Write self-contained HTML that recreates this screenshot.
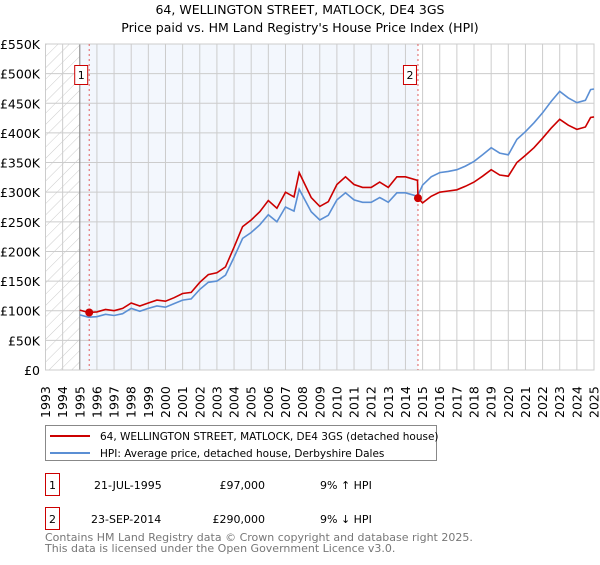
<!DOCTYPE html>
<html><head><meta charset="utf-8"><style>
body{margin:0;background:#fff;font-family:"Liberation Sans","DejaVu Sans",sans-serif;}
svg text{font-family:"DejaVu Sans","Liberation Sans",sans-serif;}
</style></head><body>
<svg id="chart" width="600" height="560" xmlns="http://www.w3.org/2000/svg">
<defs><pattern id="hatch" width="8" height="8" patternUnits="userSpaceOnUse" patternTransform="rotate(45)"><line x1="0" y1="0" x2="0" y2="8" stroke="#ccc" stroke-width="1"/></pattern></defs>
<text x="300" y="14" text-anchor="middle" font-size="12.5">64, WELLINGTON STREET, MATLOCK, DE4 3GS</text>
<text x="300" y="32" text-anchor="middle" font-size="12.5">Price paid vs. HM Land Registry's House Price Index (HPI)</text>
<g id="plot"></g>
<rect x="45.5" y="425.5" width="391" height="35" fill="#fff" stroke="#888"/>
<line x1="50" y1="436" x2="90" y2="436" stroke="#cc0000" stroke-width="2"/>
<text x="100" y="440" font-size="10.5">64, WELLINGTON STREET, MATLOCK, DE4 3GS (detached house)</text>
<line x1="50" y1="453" x2="90" y2="453" stroke="#5b8fd4" stroke-width="2"/>
<text x="100" y="457" font-size="10.5">HPI: Average price, detached house, Derbyshire Dales</text>
<rect x="45.5" y="473.5" width="14" height="22" fill="#fff" stroke="#cc0000"/>
<text x="52.5" y="489" text-anchor="middle" font-size="11">1</text>
<text x="94" y="489" font-size="11">21-JUL-1995</text>
<text x="265" y="489" text-anchor="end" font-size="11">£97,000</text>
<text x="320" y="489" font-size="11">9% ↑ HPI</text>
<rect x="45.5" y="507.5" width="14" height="22" fill="#fff" stroke="#cc0000"/>
<text x="52.5" y="523" text-anchor="middle" font-size="11">2</text>
<text x="91" y="523" font-size="11">23-SEP-2014</text>
<text x="265" y="523" text-anchor="end" font-size="11">£290,000</text>
<text x="320" y="523" font-size="11">9% ↓ HPI</text>
<text x="45" y="541" font-size="11" fill="#777">Contains HM Land Registry data © Crown copyright and database right 2025.</text>
<text x="45" y="552" font-size="11" fill="#777">This data is licensed under the Open Government Licence v3.0.</text>
</svg>
<script>
const hpiX=[1995,1995.5,1996,1996.5,1997,1997.5,1998,1998.5,1999,1999.5,2000,2000.5,2001,2001.5,2002,2002.5,2003,2003.5,2004,2004.5,2005,2005.5,2006,2006.5,2007,2007.5,2007.8,2008.5,2009,2009.5,2010,2010.5,2011,2011.5,2012,2012.5,2013,2013.5,2014,2014.7,2015,2015.5,2016,2016.5,2017,2017.5,2018,2018.5,2019,2019.5,2020,2020.5,2021,2021.5,2022,2022.5,2023,2023.5,2024,2024.5,2024.8,2025];
const hpiY=[93,89,90,94,92,95,104,99,104,108,106,112,118,120,136,148,150,160,190,222,232,245,262,250,275,268,305,267,253,261,287,299,287,283,283,291,283,299,299,293,312,326,333,335,338,344,352,363,375,366,363,389,402,417,434,453,470,459,451,455,473,474];
const redX=[1995,1995.5,1996,1996.5,1997,1997.5,1998,1998.5,1999,1999.5,2000,2000.5,2001,2001.5,2002,2002.5,2003,2003.5,2004,2004.5,2005,2005.5,2006,2006.5,2007,2007.5,2007.8,2008.5,2009,2009.5,2010,2010.5,2011,2011.5,2012,2012.5,2013,2013.5,2014,2014.7,2014.73,2015,2015.5,2016,2016.5,2017,2017.5,2018,2018.5,2019,2019.5,2020,2020.5,2021,2021.5,2022,2022.5,2023,2023.5,2024,2024.5,2024.8,2025];
const redY=[101,97,98,102,100,104,113,108,113,118,116,122,129,131,148,161,164,174,207,242,253,267,286,273,300,292,333,291,276,284,313,326,313,308,308,317,308,326,326,320,290,282,293,300,302,304,310,317,327,338,329,327,350,362,375,391,408,423,413,406,410,426,427];
const saleYears=[1995.55,2014.73];
const salePrices=[97,290];
const yTicks=[0,50,100,150,200,250,300,350,400,450,500,550];
const xTicks=[1993,1994,1995,1996,1997,1998,1999,2000,2001,2002,2003,2004,2005,2006,2007,2008,2009,2010,2011,2012,2013,2014,2015,2016,2017,2018,2019,2020,2021,2022,2023,2024,2025];
const X0=45.5,X1=594,Y0=370,Y1=44;
const xs=y=>X0+(y-1993)/(2025-1993)*(X1-X0);
const ys=v=>Y0-v/550*(Y0-Y1);
const NS="http://www.w3.org/2000/svg";
const g=document.getElementById('plot');
function mk(t,a){const e=document.createElementNS(NS,t);for(const k in a)e.setAttribute(k,a[k]);g.appendChild(e);return e;}
let e;
e=mk('rect',{x:xs(1995),y:Y1,width:xs(saleYears[1])-xs(1995),height:Y0-Y1,fill:'#eef3fc',opacity:0.7});


e=mk('rect',{x:X0,y:Y1,width:xs(1995)-X0,height:Y0-Y1,fill:'url(#hatch)'});


yTicks.forEach(v=>{
 e=mk('line',{x1:X0,x2:X1,y1:ys(v),y2:ys(v),stroke:'#ccc'});
 
 
 e=mk('text',{x:40,y:ys(v)+5,'text-anchor':'end','font-size':'12.5'});
 e.textContent=v===0?'£0':'£'+v+'K';
 
 
});
xTicks.forEach(yr=>{
 e=mk('line',{x1:xs(yr),x2:xs(yr),y1:Y1,y2:Y0,stroke:'#ccc'});
 
 
 e=mk('text',{x:0,y:0,'font-size':'12.5',transform:`translate(${xs(yr)+4.5},${418}) rotate(-90)`});
 e.textContent=yr;
 
 
});
e=mk('line',{x1:xs(1995),x2:xs(1995),y1:Y1,y2:Y0,stroke:'#888'});


e=mk('rect',{x:X0,y:Y1,width:X1-X0,height:Y0-Y1,fill:'none',stroke:'#ccc'});


saleYears.forEach((s,i)=>{
 e=mk('line',{x1:xs(s),x2:xs(s),y1:Y1,y2:Y0,stroke:'#e06060','stroke-dasharray':'2,3'});
 
 
});
function pts(xa,ya){return xa.map((x,i)=>xs(x).toFixed(1)+','+ys(ya[i]).toFixed(1)).join(' ');}
e=mk('polyline',{points:pts(hpiX,hpiY),fill:'none',stroke:'#5b8fd4','stroke-width':1.6});


e=mk('polyline',{points:pts(redX,redY),fill:'none',stroke:'#cc0000','stroke-width':1.6});


saleYears.forEach((s,i)=>{
 e=mk('circle',{cx:xs(s),cy:ys(salePrices[i]),r:4,fill:'#cc0000'});
 
 
 const bx=xs(s)-15;
 e=mk('rect',{x:bx+0.5,y:65.5,width:13,height:19,fill:'#fff',stroke:'#cc0000'});
 
 
 e=mk('text',{x:bx+7,y:79,'text-anchor':'middle','font-size':'11'});
 e.textContent=String(i+1);
 
 
});
</script>
</body></html>
